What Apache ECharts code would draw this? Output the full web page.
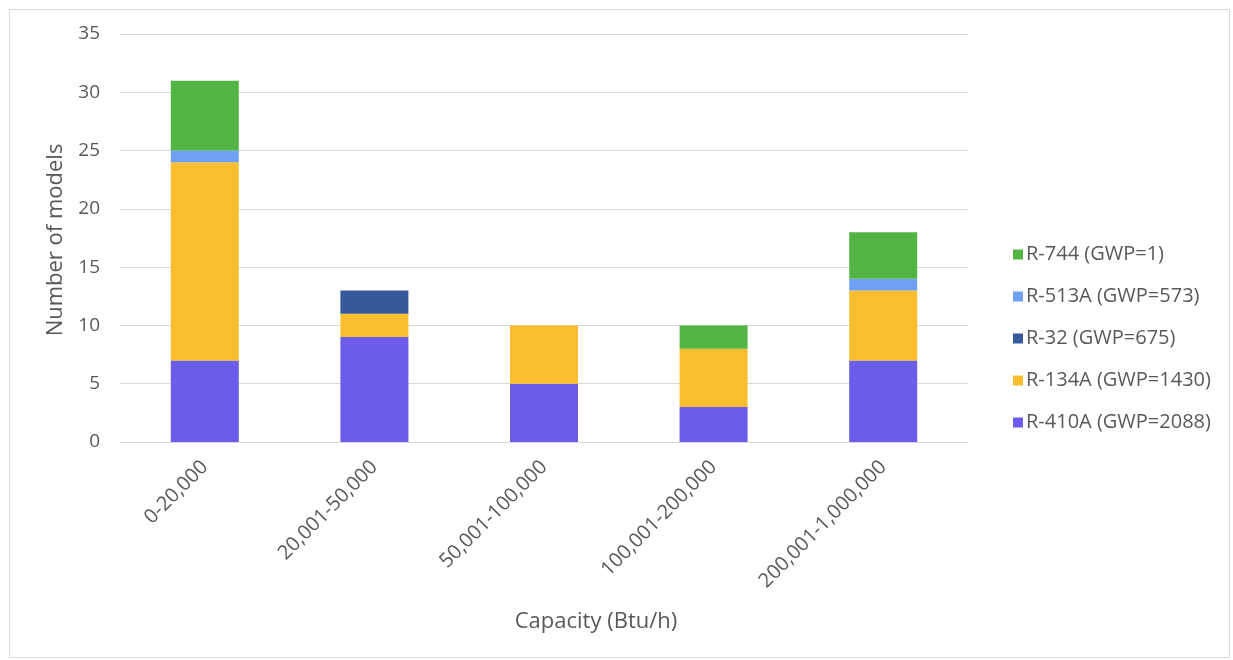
<!DOCTYPE html>
<html><head><meta charset="utf-8">
<script src="https://cdn.jsdelivr.net/npm/echarts@6/dist/echarts.min.js"></script>
<style>html,body{margin:0;padding:0;background:#fff}#c{width:1233px;height:660px}</style>
</head><body><div id="c"></div>
<script>
const categories = ['0-20,000','20,001-50,000','50,001-100,000','100,001-200,000','200,001-1,000,000'];
const r410a = [7, 9, 5, 3, 7];
const r134a = [17, 2, 5, 5, 6];
const r32 = [0, 2, 0, 0, 0];
const r513a = [1, 0, 0, 0, 1];
const r744 = [6, 0, 0, 2, 4];
const seriesNames = ['R-410A (GWP=2088)','R-134A (GWP=1430)','R-32 (GWP=675)','R-513A (GWP=573)','R-744 (GWP=1)'];
const seriesData = [r410a, r134a, r32, r513a, r744];
const colors = ['#6b5ce9','#f8be2e','#36599a','#6fa0f3','#52b443'];
const font = '"Open Sans", "Liberation Sans", sans-serif';

const chart = echarts.init(document.getElementById('c'), null, {renderer:'canvas'});
chart.setOption({
  animation:false,
  backgroundColor:'#fff',
  grid:{left:120, right:1233-968, top:34, bottom:660-442, containLabel:false},
  legend:{
    orient:'vertical', left:1008, top:239,
    itemWidth:10, itemHeight:10, itemGap:21,
    icon:'rect',
    data: seriesNames.slice().reverse(),
    textStyle:{fontFamily:font, fontSize:20, lineHeight:21, color:'#595959', padding:[0,0,0,-2]}
  },
  xAxis:{
    type:'category', data:categories,
    axisLine:{lineStyle:{color:'#d9d9d9', width:1}},
    axisTick:{show:false},
    axisLabel:{rotate:45, fontFamily:font, fontSize:20, color:'#595959', margin:22, interval:0}
  },
  yAxis:{
    type:'value', min:0, max:35, interval:5,
    axisLine:{show:false}, axisTick:{show:false},
    splitLine:{lineStyle:{color:'#d9d9d9'}},
    axisLabel:{fontFamily:font, fontSize:19, color:'#595959', margin:20}
  },
  series: seriesNames.map((n,i)=>({
    name:n, type:'bar', stack:'s', barWidth:68,
    data: seriesData[i],
    itemStyle:{color:colors[i]}
  })),
  graphic:[
    {type:'rect', left:7, top:7, shape:{width:1220, height:648}, style:{fill:'none', stroke:'#d9d9d9', lineWidth:1}, silent:true, z:-1},
    {type:'text', x:56, y:240, rotation:Math.PI/2, style:{text:'Number of models', font:'22px '+font, fill:'#595959', textAlign:'center', textVerticalAlign:'middle'}},
    {type:'text', x:596, y:622, style:{text:'Capacity (Btu/h)', font:'22px '+font, fill:'#595959', textAlign:'center', textVerticalAlign:'middle'}}
  ]
});
</script></body></html>
